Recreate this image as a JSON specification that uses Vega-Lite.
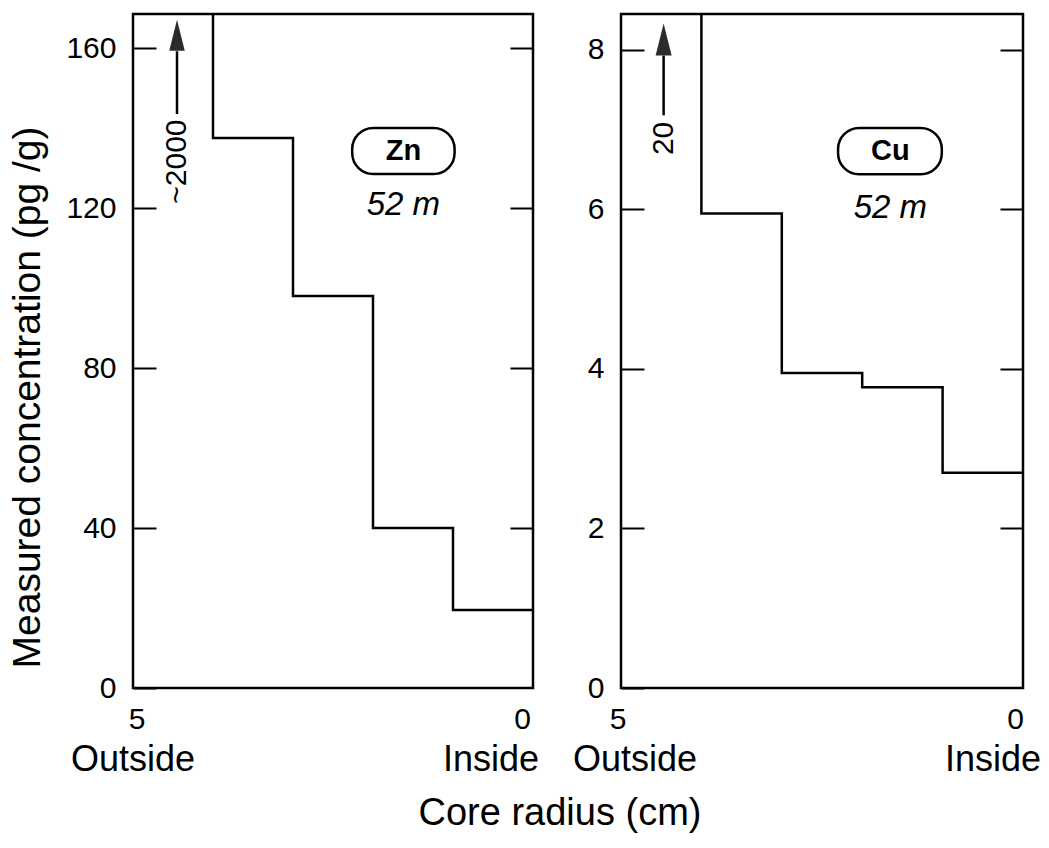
{
  "$schema": "https://vega.github.io/schema/vega-lite/v6.json",
  "background": "white",
  "padding": {"left": 7, "top": 12, "right": 4, "bottom": 4},
  "bounds": "flush",
  "spacing": 88,
  "title": {"text": "Core radius (cm)", "orient": "bottom", "anchor": "middle", "frame": "bounds", "dx": 35, "fontSize": 38, "font": "Liberation Sans", "fontWeight": "normal", "color": "black", "offset": 16},
  "config": {
    "font": "Liberation Sans",
    "view": {"stroke": "black", "strokeWidth": 2.5},
    "axis": {"grid": false, "domain": false, "labelFont": "Liberation Sans", "labelColor": "black", "labelFontSize": 30, "titleFont": "Liberation Sans", "titleColor": "black", "titleFontWeight": "normal", "titleFontSize": 37, "tickColor": "black", "tickWidth": 2},
    "text": {"font": "Liberation Sans", "color": "black"}
  },
  "datasets": {
    "zn": [
      {"radius": 0, "conc": 19.5},
      {"radius": 1, "conc": 40},
      {"radius": 2, "conc": 98},
      {"radius": 3, "conc": 137.5},
      {"radius": 4, "conc": 2000}
    ],
    "cu": [
      {"radius": 0, "conc": 2.7},
      {"radius": 1, "conc": 3.77},
      {"radius": 2, "conc": 3.95},
      {"radius": 3, "conc": 5.95},
      {"radius": 4, "conc": 20}
    ],
    "zn_note": [
      {"r": 4.45, "shaft_top": 159.2, "shaft_bottom": 143.5, "head": 163.2, "label": "~2000", "label_y": 131.6, "box_r1": 2.26, "box_r2": 0.98, "box_y1": 140, "box_y2": 128.5, "tag_r": 1.62, "element": "Zn", "element_y": 134.3, "depth": "52 m", "depth_y": 120.8}
    ],
    "cu_note": [
      {"r": 4.47, "shaft_top": 7.93, "shaft_bottom": 7.18, "head": 8.13, "label": "20", "label_y": 6.89, "box_r1": 2.3, "box_r2": 1.01, "box_y1": 7.02, "box_y2": 6.44, "tag_r": 1.65, "element": "Cu", "element_y": 6.73, "depth": "52 m", "depth_y": 6.02}
    ],
    "ends": [
      {"r": 5, "digit": "5", "word": "Outside"},
      {"r": 0, "digit": "0", "word": "Inside"}
    ]
  },
  "hconcat": [
    {
      "width": 400,
      "height": 674,
      "resolve": {"axis": {"y": "independent"}},
      "layer": [
        {
          "data": {"name": "zn"},
          "mark": {"type": "line", "interpolate": "step-before", "color": "black", "strokeWidth": 2.5, "clip": true},
          "encoding": {
            "x": {"field": "radius", "type": "quantitative", "scale": {"domain": [5, 0], "nice": false, "zero": false}, "axis": null},
            "y": {"field": "conc", "type": "quantitative", "scale": {"domain": [0, 168.5], "nice": false},
                  "axis": {"orient": "left", "values": [0, 40, 80, 120, 160], "tickSize": -23, "labelPadding": 40, "title": "Measured concentration (pg /g)", "titlePadding": 18, "titleFontSize": 39, "titleY": 383}},
            "order": {"field": "radius", "type": "quantitative", "sort": "descending"}
          }
        },
        {
          "data": {"name": "zn_note"},
          "mark": {"type": "rule", "color": "black", "strokeWidth": 2.5},
          "encoding": {
            "x": {"field": "r", "type": "quantitative", "axis": null},
            "y": {"field": "shaft_top", "type": "quantitative", "axis": {"orient": "right", "values": [40, 80, 120, 160], "labels": false, "tickSize": -23, "title": null}},
            "y2": {"field": "shaft_bottom"}
          }
        },
        {
          "data": {"name": "zn_note"},
          "mark": {"type": "point", "shape": "M0,-1L0.5,1L-0.5,1Z", "filled": true, "color": "#2b2b2b", "opacity": 1, "size": 961},
          "encoding": {
            "x": {"field": "r", "type": "quantitative", "axis": null},
            "y": {"field": "head", "type": "quantitative", "axis": null}
          }
        },
        {
          "data": {"name": "zn_note"},
          "mark": {"type": "text", "angle": 270, "fontSize": 30, "align": "center", "baseline": "middle"},
          "encoding": {
            "x": {"field": "r", "type": "quantitative", "axis": null},
            "y": {"field": "label_y", "type": "quantitative", "axis": null},
            "text": {"field": "label"}
          }
        },
        {
          "data": {"name": "zn_note"},
          "mark": {"type": "rect", "filled": false, "stroke": "black", "strokeWidth": 2.5, "cornerRadius": 21},
          "encoding": {
            "x": {"field": "box_r1", "type": "quantitative", "axis": null},
            "x2": {"field": "box_r2"},
            "y": {"field": "box_y1", "type": "quantitative", "axis": null},
            "y2": {"field": "box_y2"}
          }
        },
        {
          "data": {"name": "zn_note"},
          "mark": {"type": "text", "fontSize": 29, "fontWeight": "bold", "align": "center", "baseline": "middle"},
          "encoding": {
            "x": {"field": "tag_r", "type": "quantitative", "axis": null},
            "y": {"field": "element_y", "type": "quantitative", "axis": null},
            "text": {"field": "element"}
          }
        },
        {
          "data": {"name": "zn_note"},
          "mark": {"type": "text", "fontSize": 33, "fontStyle": "italic", "align": "center", "baseline": "middle"},
          "encoding": {
            "x": {"field": "tag_r", "type": "quantitative", "axis": null},
            "y": {"field": "depth_y", "type": "quantitative", "axis": null},
            "text": {"field": "depth"}
          }
        },
        {
          "data": {"name": "ends"},
          "mark": {"type": "text", "fontSize": 30, "baseline": "middle", "dy": 32, "align": {"expr": "datum.r == 0 ? 'right' : 'center'"}, "dx": {"expr": "datum.r == 0 ? -2 : 4"}},
          "encoding": {
            "x": {"field": "r", "type": "quantitative", "axis": null},
            "y": {"datum": 0, "type": "quantitative", "axis": null},
            "text": {"field": "digit"}
          }
        },
        {
          "data": {"name": "ends"},
          "mark": {"type": "text", "fontSize": 36, "baseline": "middle", "dy": 72, "align": {"expr": "datum.r == 0 ? 'right' : 'center'"}, "dx": {"expr": "datum.r == 0 ? 6 : 0"}},
          "encoding": {
            "x": {"field": "r", "type": "quantitative", "axis": null},
            "y": {"datum": 0, "type": "quantitative", "axis": null},
            "text": {"field": "word"}
          }
        }
      ]
    },
    {
      "width": 402,
      "height": 674,
      "resolve": {"axis": {"y": "independent"}},
      "layer": [
        {
          "data": {"name": "cu"},
          "mark": {"type": "line", "interpolate": "step-before", "color": "black", "strokeWidth": 2.5, "clip": true},
          "encoding": {
            "x": {"field": "radius", "type": "quantitative", "scale": {"domain": [5, 0], "nice": false, "zero": false}, "axis": null},
            "y": {"field": "conc", "type": "quantitative", "scale": {"domain": [0, 8.45], "nice": false},
                  "axis": {"orient": "left", "values": [0, 2, 4, 6, 8], "tickSize": -23, "labelPadding": 40, "title": null}},
            "order": {"field": "radius", "type": "quantitative", "sort": "descending"}
          }
        },
        {
          "data": {"name": "cu_note"},
          "mark": {"type": "rule", "color": "black", "strokeWidth": 2.5},
          "encoding": {
            "x": {"field": "r", "type": "quantitative", "axis": null},
            "y": {"field": "shaft_top", "type": "quantitative", "axis": {"orient": "right", "values": [2, 4, 6, 8], "labels": false, "tickSize": -23, "title": null}},
            "y2": {"field": "shaft_bottom"}
          }
        },
        {
          "data": {"name": "cu_note"},
          "mark": {"type": "point", "shape": "M0,-1L0.5,1L-0.5,1Z", "filled": true, "color": "#2b2b2b", "opacity": 1, "size": 1024},
          "encoding": {
            "x": {"field": "r", "type": "quantitative", "axis": null},
            "y": {"field": "head", "type": "quantitative", "axis": null}
          }
        },
        {
          "data": {"name": "cu_note"},
          "mark": {"type": "text", "angle": 270, "fontSize": 30, "align": "center", "baseline": "middle"},
          "encoding": {
            "x": {"field": "r", "type": "quantitative", "axis": null},
            "y": {"field": "label_y", "type": "quantitative", "axis": null},
            "text": {"field": "label"}
          }
        },
        {
          "data": {"name": "cu_note"},
          "mark": {"type": "rect", "filled": false, "stroke": "black", "strokeWidth": 2.5, "cornerRadius": 21},
          "encoding": {
            "x": {"field": "box_r1", "type": "quantitative", "axis": null},
            "x2": {"field": "box_r2"},
            "y": {"field": "box_y1", "type": "quantitative", "axis": null},
            "y2": {"field": "box_y2"}
          }
        },
        {
          "data": {"name": "cu_note"},
          "mark": {"type": "text", "fontSize": 29, "fontWeight": "bold", "align": "center", "baseline": "middle"},
          "encoding": {
            "x": {"field": "tag_r", "type": "quantitative", "axis": null},
            "y": {"field": "element_y", "type": "quantitative", "axis": null},
            "text": {"field": "element"}
          }
        },
        {
          "data": {"name": "cu_note"},
          "mark": {"type": "text", "fontSize": 33, "fontStyle": "italic", "align": "center", "baseline": "middle"},
          "encoding": {
            "x": {"field": "tag_r", "type": "quantitative", "axis": null},
            "y": {"field": "depth_y", "type": "quantitative", "axis": null},
            "text": {"field": "depth"}
          }
        },
        {
          "data": {"name": "ends"},
          "mark": {"type": "text", "fontSize": 30, "baseline": "middle", "dy": 32, "align": {"expr": "datum.r == 0 ? 'right' : 'center'"}, "dx": {"expr": "datum.r == 0 ? 1 : -3"}},
          "encoding": {
            "x": {"field": "r", "type": "quantitative", "axis": null},
            "y": {"datum": 0, "type": "quantitative", "axis": null},
            "text": {"field": "digit"}
          }
        },
        {
          "data": {"name": "ends"},
          "mark": {"type": "text", "fontSize": 36, "baseline": "middle", "dy": 72, "align": {"expr": "datum.r == 0 ? 'right' : 'center'"}, "dx": {"expr": "datum.r == 0 ? 18 : 14"}},
          "encoding": {
            "x": {"field": "r", "type": "quantitative", "axis": null},
            "y": {"datum": 0, "type": "quantitative", "axis": null},
            "text": {"field": "word"}
          }
        }
      ]
    }
  ]
}
